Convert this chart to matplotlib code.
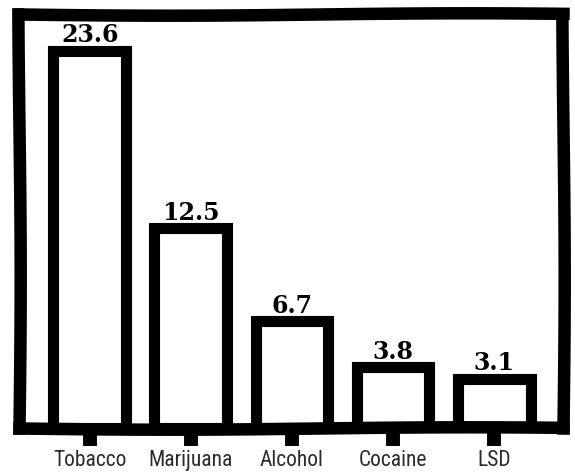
import matplotlib
matplotlib.use("Agg")
import matplotlib.pyplot as plt

drugs = ["Tobacco", "Marijuana", "Alcohol", "Cocaine", "LSD"]
values = [23.6, 12.5, 6.7, 3.8, 3.1]

fig = plt.figure(figsize=(5.75, 4.72), dpi=100)
ax = fig.add_axes([0.033, 0.093, 0.946, 0.877])

bars = ax.bar(range(len(drugs)), values, width=0.72, color="white",
              edgecolor="black", linewidth=8)
for b in bars:
    b.set_joinstyle("miter")

for i, v in enumerate(values):
    ax.text(i, v + 0.22, str(v), ha="center", va="bottom",
            fontsize=17, fontweight="heavy", family=["DejaVu Serif"])

ax.set_xlim(-0.7, 4.68)
ax.set_ylim(0, 25.9)
ax.set_yticks([])
ax.set_xticks(range(len(drugs)))
ax.set_xticklabels(drugs, family=["Liberation Sans Narrow", "Roboto Condensed", "DejaVu Sans"],
                   fontsize=15.5, fontstretch="condensed", color="#2b2b2b")
ax.tick_params(axis="x", length=13, width=10, pad=3, direction="out")
for s in ax.spines.values():
    s.set_linewidth(9)
    s.set_capstyle("projecting")
    s.set_sketch_params(1.2, 600, 1)

fig.savefig("out.png", dpi=100)
